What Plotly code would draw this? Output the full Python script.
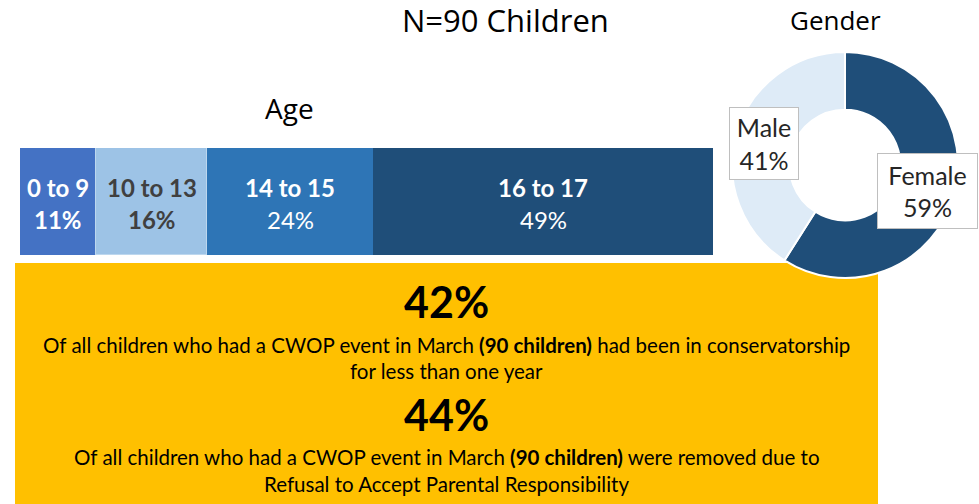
import plotly.graph_objects as go

# ---- data ----
age_groups = ["0 to 9", "10 to 13", "14 to 15", "16 to 17"]
age_pct = [11, 16, 24, 49]
gender_labels = ["Female", "Male"]
gender_pct = [59, 41]
stat_values = ["42%", "44%"]
stat_texts = [
    ["Of all children who had a CWOP event in March <b>(90 children)</b> had been in conservatorship",
     "for less than one year"],
    ["Of all children who had a CWOP event in March <b>(90 children)</b> were removed due to",
     "Refusal to Accept Parental Responsibility"],
]
title_text = "N=90 Children"

# ---- styles ----
W, H = 979, 504
age_colors = ["#4472C4", "#9DC3E6", "#2E75B6", "#1F4E79"]
age_text_colors = ["white", "#404040", "white", "white"]
age_bold_pct = [True, True, False, False]
gender_colors = ["#1F4E79", "#DEEBF7"]
BODY = "Lato, Calibri, sans-serif"
HEAD = "Open Sans, sans-serif"

BAR_TOP, BAR_BOT = 148, 255


def px(x):
    return x / W


def py(y):
    return 1 - y / H


def bar_y(pix):
    return 0.5 - (pix - BAR_TOP) / (BAR_BOT - BAR_TOP)


fig = go.Figure()

for i, (g, v) in enumerate(zip(age_groups, age_pct)):
    fig.add_trace(go.Bar(
        x=[v], y=[0], orientation="h", width=1,
        marker=dict(color=age_colors[i],
                    line=dict(color="#BDD7EE" if i == 1 else age_colors[i], width=1.5 if i == 1 else 0)),
        hoverinfo="skip", showlegend=False, name=g,
    ))

fig.add_trace(go.Pie(
    labels=gender_labels, values=gender_pct, hole=0.49, sort=False,
    direction="clockwise", rotation=0,
    marker=dict(colors=gender_colors, line=dict(color="white", width=2)),
    textinfo="none", hoverinfo="skip", showlegend=False,
    domain=dict(x=[px(732), px(958)], y=[py(278), py(52)]),
))

annotations = []
cum = 0
for i, (g, v) in enumerate(zip(age_groups, age_pct)):
    cx = cum + v / 2
    cum += v
    annotations.append(dict(x=cx, y=bar_y(187), xref="x", yref="y", text=f"<b>{g}</b>",
                            showarrow=False, xanchor="center", yanchor="middle",
                            font=dict(family=BODY, size=24, color=age_text_colors[i])))
    pct = f"{v}%"
    if age_bold_pct[i]:
        pct = f"<b>{pct}</b>"
    annotations.append(dict(x=cx, y=bar_y(219), xref="x", yref="y", text=pct,
                            showarrow=False, xanchor="center", yanchor="middle",
                            font=dict(family=BODY, size=24, color=age_text_colors[i])))

# headings
annotations.append(dict(x=px(505), y=py(20), xref="paper", yref="paper", text=title_text,
                        showarrow=False, xanchor="center", yanchor="middle",
                        font=dict(family=HEAD, size=31, color="#000000")))
annotations.append(dict(x=px(289), y=py(108), xref="paper", yref="paper", text="Age",
                        showarrow=False, xanchor="center", yanchor="middle",
                        font=dict(family=HEAD, size=28, color="#000000")))
annotations.append(dict(x=px(835), y=py(20), xref="paper", yref="paper", text="Gender",
                        showarrow=False, xanchor="center", yanchor="middle",
                        font=dict(family=HEAD, size=26, color="#000000")))

# gender label boxes
box_pos = {"Female": (927.5, 191, 99, 74), "Male": (764, 143.5, 68, 71)}
for lab, val in zip(gender_labels, gender_pct):
    bx, by, bw, bh = box_pos[lab]
    annotations.append(dict(x=px(bx), y=py(by), xref="paper", yref="paper",
                            text=f"{lab}<br>{val}%", showarrow=False,
                            xanchor="center", yanchor="middle",
                            width=bw, height=bh, bgcolor="white", bordercolor="#BFBFBF",
                            borderwidth=1, borderpad=0,
                            font=dict(family=BODY, size=25, color="#262626")))

# yellow box texts
stat_y = [301, 414]
line_y = [[345, 371], [457, 484]]
for k in range(2):
    annotations.append(dict(x=px(446.5), y=py(stat_y[k]), xref="paper", yref="paper",
                            text=f"<b>{stat_values[k]}</b>", showarrow=False,
                            xanchor="center", yanchor="middle",
                            font=dict(family=BODY, size=43, color="#000000")))
    for t, yy in zip(stat_texts[k], line_y[k]):
        annotations.append(dict(x=px(446.5), y=py(yy), xref="paper", yref="paper",
                                text=t, showarrow=False, xanchor="center", yanchor="middle",
                                font=dict(family=BODY, size=20.5, color="#000000")))

fig.update_layout(
    width=W, height=H, margin=dict(l=0, r=0, t=0, b=0),
    paper_bgcolor="white", plot_bgcolor="rgba(0,0,0,0)",
    barmode="stack", bargap=0,
    xaxis=dict(domain=[px(20), px(713)], range=[0, sum(age_pct)], visible=False, fixedrange=True),
    yaxis=dict(domain=[py(BAR_BOT), py(BAR_TOP)], range=[-0.5, 0.5], visible=False, fixedrange=True),
    shapes=[dict(type="rect", xref="paper", yref="paper", x0=px(15), x1=px(878),
                 y0=py(504), y1=py(263), fillcolor="#FFC000", line=dict(width=0), layer="below")],
    annotations=annotations,
)

fig.write_html("out.html", config={"displayModeBar": False},
               post_script="document.body.style.margin='0';document.body.style.overflow='hidden';")
